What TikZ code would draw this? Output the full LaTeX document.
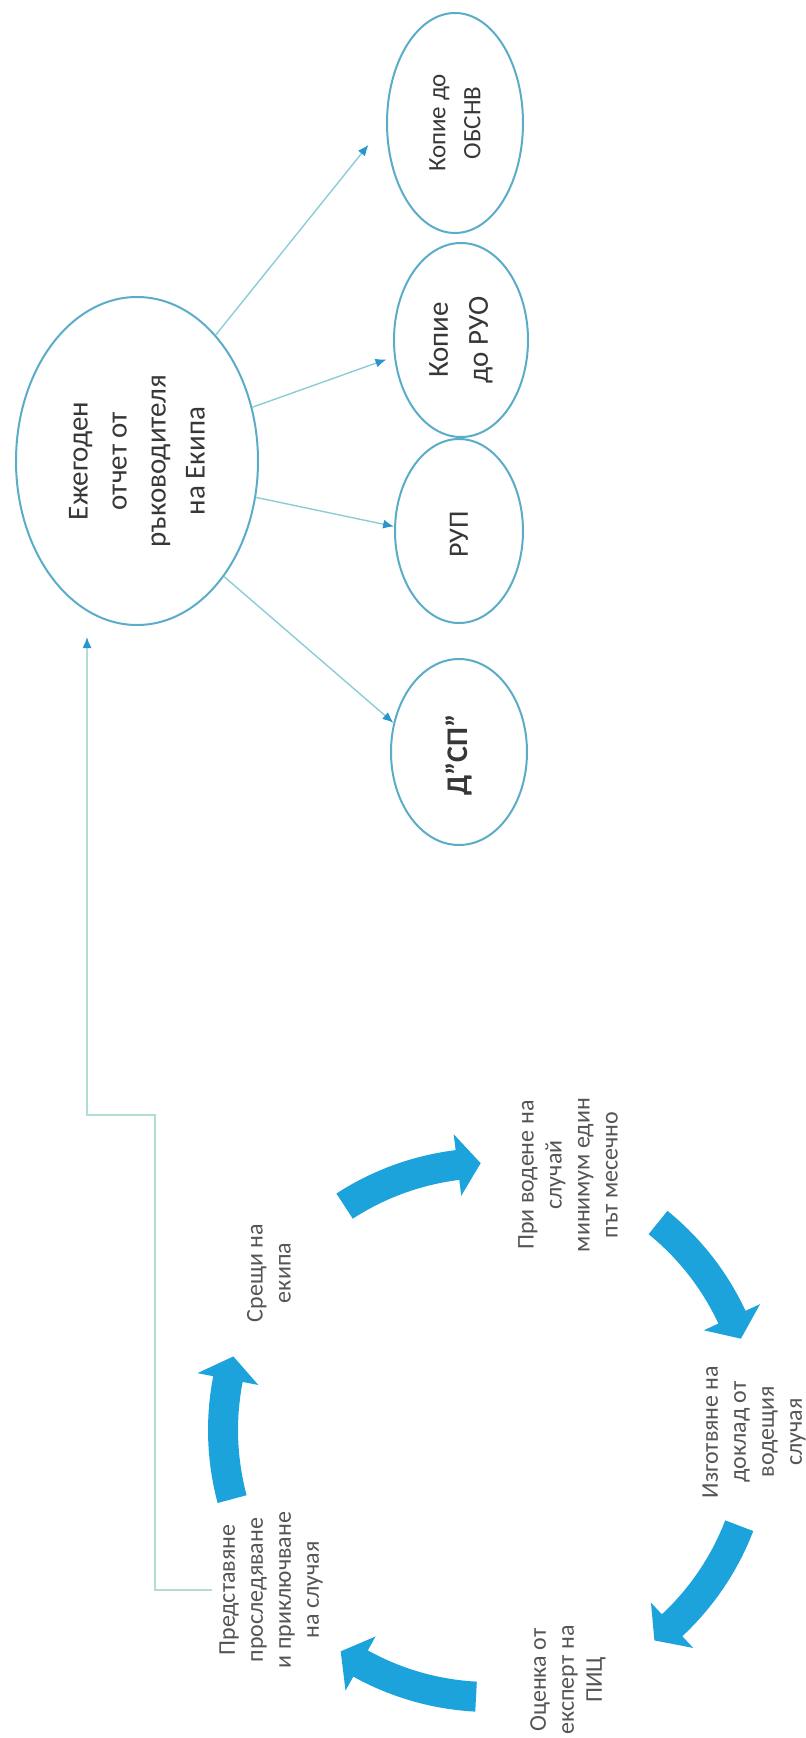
\documentclass[tikz,border=0pt]{standalone}
\usepackage{fontspec}
\setmainfont{Carlito}
\usepackage{xcolor}
\usetikzlibrary{shapes,arrows.meta,positioning,calc}

\definecolor{ringblue}{RGB}{90,172,200}
\definecolor{linkteal}{RGB}{140,204,214}
\definecolor{tipblue}{RGB}{40,150,205}
\definecolor{cyclefill}{RGB}{29,163,220}
\definecolor{bracketmint}{RGB}{178,220,214}
\definecolor{textgray}{RGB}{55,55,55}
\definecolor{labelgray}{RGB}{85,85,85}

\begin{document}
\begin{tikzpicture}[x=0.5pt, y=-0.5pt]
    \tikzstyle{oval} = [ellipse, draw=ringblue, line width=1pt, inner sep=0pt, rotate=90, align=center, text=textgray]
    \tikzstyle{link} = [draw=linkteal, line width=0.7pt, -{Latex[length=5.5pt, width=4.5pt, color=tipblue]}]
    \tikzstyle{bracketlink} = [link, draw=bracketmint]
    \tikzstyle{steplabel} = [rotate=90, align=center, text=labelgray, font=\fontsize{12}{14}\selectfont]
    \tikzstyle{cyclearrow} = [fill=cyclefill, shift={(490,1430)}]

    \useasboundingbox (0,0) rectangle (805,1738);

    \node[oval, minimum width=164pt, minimum height=121pt, font=\fontsize{14.5}{19.5}\selectfont] (report) at (137,461) {
        Ежегоден\\отчет от\\ръководителя\\на Екипа
    };

    \node[oval, minimum width=110pt, minimum height=68pt, font=\fontsize{12.5}{17.5}\selectfont] (obsnv) at (455,123) {
        Копие до\\ОБСНВ
    };
    \node[oval, minimum width=97pt, minimum height=67pt, font=\fontsize{14.5}{20}\selectfont] (ruo) at (461,340) {
        Копие\\до РУО
    };
    \node[oval, minimum width=92pt, minimum height=64pt, font=\fontsize{14}{17}\selectfont] (rup) at (459,531) {
        РУП
    };
    \node[oval, minimum width=93pt, minimum height=68pt, font=\fontsize{15}{18}\selectfont\bfseries] (dsp) at (459,752) {
        Д”СП”
    };

    \draw[link, shorten >=14pt] (report.328) -- (obsnv.north);
    \draw[link, shorten >=4pt] (report.295) -- (ruo.104);
    \draw[link] (report.253) -- (rup.86);
    \draw[link] (report.217) -- (dsp.66);

    \node[steplabel] (sreshti) at (269,1273) {Срещи на\\екипа};
    \node[steplabel] (vodene) at (568,1175) {При водене на\\случай\\минимум един\\път месечно};
    \node[steplabel] (izgotvyane) at (754,1432) {Изготвяне на\\доклад от\\водещия\\случая};
    \node[steplabel] (ocenka) at (568,1680) {Оценка от\\експерт на\\ПИЦ};
    \node[steplabel] (predstavyane) at (271,1590) {Представяне\\проследяване\\и приключване\\на случая};

    \fill[cyclearrow] plot[domain=-123:-97, samples=15] (\x:282) -- (-97:298) -- (-92:267) -- (-97:236) -- plot[domain=-97:-123, samples=15] (\x:252) -- cycle;
    \fill[cyclearrow] plot[domain=-51:-25, samples=15] (\x:282) -- (-25:298) -- (-20:267) -- (-25:236) -- plot[domain=-25:-51, samples=15] (\x:252) -- cycle;
    \fill[cyclearrow] plot[domain=21:47, samples=15] (\x:282) -- (47:298) -- (52:267) -- (47:236) -- plot[domain=47:21, samples=15] (\x:252) -- cycle;
    \fill[cyclearrow] plot[domain=93:119, samples=15] (\x:282) -- (119:298) -- (124:267) -- (119:236) -- plot[domain=119:93, samples=15] (\x:252) -- cycle;
    \fill[cyclearrow] plot[domain=165:191, samples=15] (\x:282) -- (191:298) -- (196:267) -- (191:236) -- plot[domain=191:165, samples=15] (\x:252) -- cycle;

    \coordinate (reportin) at (87,637);
    \draw[bracketlink] (predstavyane.north) -| (155,1115) -| (reportin);
\end{tikzpicture}
\end{document}
